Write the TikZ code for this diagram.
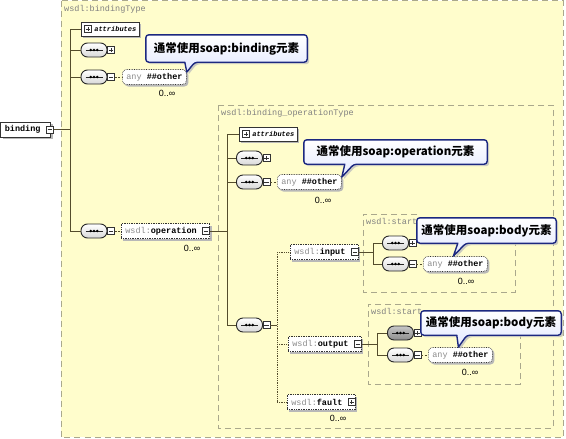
\documentclass[tikz,border=0pt]{standalone}
\usepackage{fontspec}
\setmonofont{Liberation Mono}
\setsansfont{Liberation Sans}
\newfontfamily\cjk{Noto Sans CJK SC}
\usetikzlibrary{shadows}
\definecolor{TypeYellow}{RGB}{255,253,204}
\definecolor{FrameGray}{RGB}{170,168,140}
\definecolor{TreeLine}{RGB}{84,76,44}
\definecolor{NoteBlue}{RGB}{28,40,128}
\definecolor{NoteFill}{RGB}{226,232,255}
\pgfdeclarelayer{front}
\pgfsetlayers{main,front}

\tikzset{
  treeline/.style={TreeLine, line width=0.8pt},
  optline/.style={TreeLine, line width=0.6pt, dash pattern=on 2pt off 1.5pt},
  dotline/.style={TreeLine, line width=0.8pt, densely dotted},
  typebox/.style={FrameGray, line width=0.8pt, dash pattern=on 6pt off 4pt},
  typelabel/.style={anchor=west, inner sep=0pt, text=black!50, font=\ttfamily\fontsize{8.5}{10}\selectfont},
  shade/.style={drop shadow={shadow xshift=2pt, shadow yshift=-2pt, fill=black!28, opacity=1}},
  tog/.style={draw=black!80, fill=white, minimum size=7pt, inner sep=0pt, line width=0.5pt},
  tgplus/.style={tog, path picture={
      \draw[line width=0.6pt] ([xshift=-2.2pt]path picture bounding box.center) -- ([xshift=2.2pt]path picture bounding box.center)
        ([yshift=-2.2pt]path picture bounding box.center) -- ([yshift=2.2pt]path picture bounding box.center);}},
  tgminus/.style={tog, path picture={
      \draw[line width=0.6pt] ([xshift=-2.2pt]path picture bounding box.center) -- ([xshift=2.2pt]path picture bounding box.center);}},
  seqbox/.style={draw=black!85, line width=0.9pt, rounded corners=6.5pt, minimum width=26pt, minimum height=14pt,
      inner sep=0pt, top color=white, bottom color=black!15, path picture={
      \draw[line width=0.9pt] ([xshift=-8.5pt]path picture bounding box.center) -- ([xshift=8.5pt]path picture bounding box.center);
      \foreach \d in {-3.3,0,3.3} \fill ([xshift=\d pt]path picture bounding box.center) circle (1.4pt);}},
  seqgrey/.style={seqbox, top color=black!22, bottom color=black!45},
  rootbox/.style={draw=black!80, fill=white, line width=0.7pt, minimum height=15pt, inner xsep=4pt, inner ysep=0pt,
      font=\ttfamily\bfseries\fontsize{8.5}{10}\selectfont, shade},
  attrbox/.style={draw=black!80, fill=white, line width=0.6pt, minimum height=14pt, inner xsep=3pt, inner ysep=0pt,
      font=\ttfamily\itshape\bfseries\fontsize{7}{8}\selectfont, shade},
  elbox/.style={draw=black!80, fill=white, densely dotted, line width=0.7pt, minimum height=15pt, inner xsep=4pt,
      inner ysep=0pt, font=\ttfamily\fontsize{8.5}{10}\selectfont, shade},
  anybox/.style={elbox, rounded corners=4pt},
  mult/.style={inner sep=0pt, font=\sffamily\fontsize{9}{10}\selectfont},
  notebox/.style={draw=NoteBlue, line width=1.4pt, line join=round, top color=white, bottom color=NoteFill,
      drop shadow={shadow xshift=2pt, shadow yshift=-2pt, fill=black!25, opacity=0.8}},
  notetext/.style={inner sep=0pt, font=\cjk\bfseries\fontsize{11.5}{13}\selectfont}
}

% callout outline round a text node: node, tail left, tail right, tip
\newcommand{\notetail}[4]{%
  \draw[notebox] ([xshift=#2]#1.south west) [rounded corners=3pt] -- (#1.south west) -- (#1.north west)
    -- (#1.north east) -- (#1.south east) -- ([xshift=#3]#1.south west) [sharp corners] -- (#4) -- cycle;}

\begin{document}
\begin{tikzpicture}[x=1pt, y=-1pt]
\useasboundingbox (0,0) rectangle (566,439);

% type frames
\fill[TypeYellow] (61,0.5) rectangle (563,437);
\draw[typebox] (61,0.5) rectangle (563,437);
\node[typelabel] (tbt) at (64,9) {wsdl:bindingType};
\draw[typebox] (218,105) rectangle (553,428);
\node[typelabel] (tbo) at (221,113) {wsdl:binding\_operationType};
\draw[typebox] (417,214) -- (363,214) -- (363,292) -- (515,292) -- (515,243);
\node[typelabel] (tin) at (366,221) {wsdl:start};
\draw[typebox] (421,304) -- (368,304) -- (368,384) -- (520,384) -- (520,335);
\node[typelabel] (tout) at (371,311) {wsdl:start};

% binding and its children
\node[rootbox, anchor=west] (bind) at (0.5,129.5) {binding\hspace*{6pt}};
\node[tgminus] (bindt) at ([xshift=-1pt]bind.east) {};
\coordinate (otr) at (70,0);

\node[attrbox, anchor=west] (oattr) at (81,29) {\hspace*{10pt}attributes};
\node[tgplus] (oattrt) at ([xshift=7pt]oattr.west) {};
\node[seqbox] (os1) at (94,50) {};
\node[tgplus] (os1t) at ([xshift=3.5pt]os1.east) {};
\node[seqbox] (os2) at (94,77) {};
\node[tgminus] (os2t) at ([xshift=3.5pt]os2.east) {};
\node[anybox, anchor=west] (any1) at (122,77) {{\color{black!45}any} \textbf{\#\#other}};
\node[mult] (m1) at (167,93) {0..∞};
\node[seqbox] (os3) at (94,231) {};
\node[tgminus] (os3t) at ([xshift=3.5pt]os3.east) {};
\node[elbox, anchor=west] (opel) at (121,231) {{\color{black!45}wsdl:}\textbf{operation}\hspace*{9pt}};
\node[tgminus] (opelt) at ([xshift=-4pt]opel.east) {};
\node[mult] (m2) at (192,248) {0..∞};

% operation type
\coordinate (itr) at (227,0);
\node[attrbox, anchor=west] (iattr) at (239,134) {\hspace*{10pt}attributes};
\node[tgplus] (iattrt) at ([xshift=7pt]iattr.west) {};
\node[seqbox] (is1) at (249.5,158) {};
\node[tgplus] (is1t) at ([xshift=3.5pt]is1.east) {};
\node[seqbox] (is2) at (249.5,182) {};
\node[tgminus] (is2t) at ([xshift=3.5pt]is2.east) {};
\node[anybox, anchor=west] (any2) at (277,182) {{\color{black!45}any} \textbf{\#\#other}};
\node[mult] (m3) at (323,200) {0..∞};
\node[seqbox] (is3) at (249.5,325) {};
\node[tgminus] (is3t) at ([xshift=3.5pt]is3.east) {};

\coordinate (ctr) at (277,0);
\node[elbox, anchor=west] (inel) at (290,252) {{\color{black!45}wsdl:}\textbf{input}\hspace*{9pt}};
\node[tgminus] (inelt) at ([xshift=-4pt]inel.east) {};
\node[elbox, anchor=west] (outel) at (288,344) {{\color{black!45}wsdl:}\textbf{output}\hspace*{9pt}};
\node[tgminus] (outelt) at ([xshift=-4pt]outel.east) {};
\node[elbox, anchor=west] (fltel) at (287,402) {{\color{black!45}wsdl:}\textbf{fault}\hspace*{9pt}};
\node[tgplus] (fltelt) at ([xshift=-4pt]fltel.east) {};
\node[mult] (m6) at (338,418) {0..∞};

% input / output types
\coordinate (intr) at (373,0);
\node[seqbox] (ins1) at (395.5,243) {};
\node[tgplus] (ins1t) at ([xshift=3.5pt]ins1.east) {};
\node[seqbox] (ins2) at (395.5,264) {};
\node[tgminus] (ins2t) at ([xshift=3.5pt]ins2.east) {};
\node[anybox, anchor=west] (any3) at (423,264) {{\color{black!45}any} \textbf{\#\#other}};
\node[mult] (m4) at (466,281) {0..∞};

\coordinate (outr) at (377,0);
\node[seqgrey] (outs1) at (400.5,333) {};
\node[tgplus] (outs1t) at ([xshift=3.5pt]outs1.east) {};
\node[seqbox] (outs2) at (400.5,355) {};
\node[tgminus] (outs2t) at ([xshift=3.5pt]outs2.east) {};
\node[anybox, anchor=west] (any4) at (428,355) {{\color{black!45}any} \textbf{\#\#other}};
\node[mult] (m5) at (470,372) {0..∞};

% connectors
\draw[treeline] (bindt.east) -- (bindt.east -| otr);
\draw[treeline] (otr |- oattr.west) -- (otr |- os3.west);
\foreach \n in {oattr, os1, os2, os3}
  \draw[treeline] (otr |- \n.west) -- (\n.west);
\draw[optline] (os2t.east) -- (any1.west);
\draw[optline] (os3t.east) -- (opel.west);
\draw[treeline] (opelt.east) -- (opelt.east -| itr);
\draw[treeline] (itr |- iattr.west) -- (itr |- is3.west);
\foreach \n in {iattr, is1, is2, is3}
  \draw[treeline] (itr |- \n.west) -- (\n.west);
\draw[optline] (is2t.east) -- (any2.west);
\draw[treeline] (is3t.east) -- (is3t.east -| ctr);
\draw[dotline] (ctr |- inel.west) -- (ctr |- fltel.west);
\foreach \n in {inel, outel, fltel}
  \draw[dotline] (ctr |- \n.west) -- (\n.west);
\draw[treeline] (inelt.east) -- (inelt.east -| intr);
\draw[treeline] (intr |- ins1.west) -- (intr |- ins2.west);
\foreach \n in {ins1, ins2}
  \draw[treeline] (intr |- \n.west) -- (\n.west);
\draw[optline] (ins2t.east) -- (any3.west);
\draw[treeline] (outelt.east) -- (outelt.east -| outr);
\draw[treeline] (outr |- outs1.west) -- (outr |- outs2.west);
\foreach \n in {outs1, outs2}
  \draw[treeline] (outr |- \n.west) -- (\n.west);
\draw[optline] (outs2t.east) -- (any4.west);

% callouts
\begin{pgfonlayer}{front}
\node[notetext, minimum width=161pt, minimum height=27pt] (n1) at (226.5,48.5) {通常使用soap:binding元素};
\node[notetext, minimum width=183pt, minimum height=24pt] (n2) at (395.5,152) {通常使用soap:operation元素};
\node[notetext, minimum width=139pt, minimum height=25pt] (n3) at (486.5,230.5) {通常使用soap:body元素};
\node[notetext, minimum width=140pt, minimum height=24pt] (n4) at (491,323) {通常使用soap:body元素};
\end{pgfonlayer}
\notetail{n1}{39pt}{49pt}{[yshift=-3pt]any1.north east}
\notetail{n2}{41pt}{50pt}{[yshift=-3pt]any2.north east}
\notetail{n3}{41pt}{49pt}{[xshift=-2pt]any3.north}
\notetail{n4}{36pt}{46pt}{[xshift=-2pt]any4.north}
\end{tikzpicture}
\end{document}
